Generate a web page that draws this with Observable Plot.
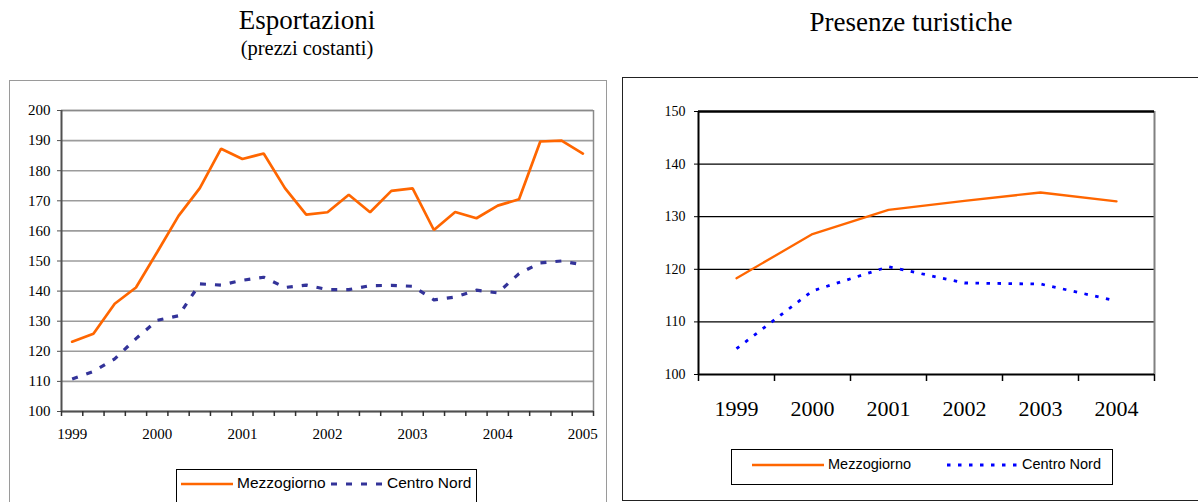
<!DOCTYPE html>
<html>
<head>
<meta charset="utf-8">
<script src="https://cdn.jsdelivr.net/npm/d3@7"></script>
<script src="https://cdn.jsdelivr.net/npm/@observablehq/plot@0.6"></script>
<style>
  body { margin: 0; background: #fff; }
  #page { position: relative; width: 1198px; height: 502px; overflow: hidden; background: #fff;
          font-family: "Liberation Serif", "Times New Roman", serif; color: #000; }
  #page svg text { font-family: "Liberation Serif", "Times New Roman", serif !important; }
  .abs { position: absolute; }
  .title { position: absolute; text-align: center; white-space: nowrap; }
  .box { position: absolute; box-sizing: border-box; }
  .legend { position: absolute; box-sizing: border-box; border: 1px solid #000; background: #fff;
            font-family: "Liberation Sans", Arial, sans-serif; }
  .legend span { position: absolute; white-space: nowrap; line-height: 1; }
  .legend svg { position: absolute; overflow: visible; }
</style>
</head>
<body>
<div id="page">
  <div class="title" style="left:107px;width:400px;top:5px;font-size:27px;">Esportazioni</div>
  <div class="title" style="left:107px;width:400px;top:37px;font-size:20.5px;">(prezzi costanti)</div>
  <div class="box" style="left:9px;top:80px;width:598px;height:440px;border:1px solid #9a9a9a;"></div>
  <div id="chartExp" class="abs" style="left:9px;top:80px;"></div>
  <div id="legendExp" class="legend" style="left:176px;top:469px;width:301px;height:40px;"></div>

  <div class="title" style="left:711px;width:400px;top:7px;font-size:27px;">Presenze turistiche</div>
  <div class="box" style="left:622px;top:77px;width:600px;height:424px;border:1.5px solid #222;"></div>
  <div id="chartTur" class="abs" style="left:622px;top:77px;"></div>
  <div id="legendTur" class="legend" style="left:731px;top:449px;width:382px;height:36px;"></div>
</div>
<script>
// Esportazioni a prezzi costanti, dati trimestrali 1999 T1 - 2005 T1
const quarters = [
  "1999 T1","1999 T2","1999 T3","1999 T4",
  "2000 T1","2000 T2","2000 T3","2000 T4",
  "2001 T1","2001 T2","2001 T3","2001 T4",
  "2002 T1","2002 T2","2002 T3","2002 T4",
  "2003 T1","2003 T2","2003 T3","2003 T4",
  "2004 T1","2004 T2","2004 T3","2004 T4",
  "2005 T1"
];
const mezzogiornoExp = [123.2,125.8,135.8,141.2,153.0,165.0,174.2,187.3,183.9,185.7,174.2,165.4,
                        166.2,172.0,166.2,173.3,174.1,160.3,166.3,164.2,168.4,170.5,189.7,190.0,185.7];
const centroNordExp  = [110.8,113.3,117.5,124.2,130.3,131.8,142.4,142.0,143.6,144.6,141.2,142.0,
                        140.5,140.5,141.8,141.9,141.6,137.1,138.0,140.3,139.4,145.8,149.4,150.0,148.7];
const yearLabelsExp = ["1999","2000","2001","2002","2003","2004","2005"];
const yTicksExp = [100,110,120,130,140,150,160,170,180,190,200];

// Presenze turistiche, dati annuali
const years = ["1999","2000","2001","2002","2003","2004"];
const mezzogiornoTur = [118.3,126.7,131.3,133.0,134.6,132.9];
const centroNordTur  = [104.9,115.9,120.5,117.4,117.2,114.0];
const yTicksTur = [100,110,120,130,140,150];

const series = ["Mezzogiorno", "Centro Nord"];
const serif = "Liberation Serif";

// ---------- Esportazioni ----------
{
  const n = quarters.length;
  const bounds = d3.range(-0.5, n, 1);             // category edges
  const labelPos = yearLabelsExp.map((_, k) => k * 4); // first quarter of each year
  const chart = Plot.plot({
    width: 598, height: 375,
    marginLeft: 52, marginRight: 14, marginTop: 30, marginBottom: 44,
    style: { fontFamily: serif, fontSize: "15px", color: "#000", background: "transparent" },
    x: { domain: [bounds[0], bounds[bounds.length - 1]] },
    y: { domain: [yTicksExp[0], yTicksExp[yTicksExp.length - 1]] },
    marks: [
      Plot.gridY(yTicksExp, { stroke: "#9c9c9c", strokeOpacity: 1, strokeWidth: 1.6 }),
      Plot.ruleX([bounds[bounds.length - 1]], { stroke: "#8a8a8a", strokeWidth: 1.5 }),
      Plot.ruleY([yTicksExp[yTicksExp.length - 1]], { stroke: "#8a8a8a", strokeWidth: 1.5 }),
      Plot.ruleX([bounds[0]], { stroke: "#505050", strokeWidth: 2 }),
      Plot.ruleY([yTicksExp[0]], { stroke: "#505050", strokeWidth: 2 }),
      Plot.axisY(yTicksExp, { tickSize: 4, tickPadding: 7, stroke: "#505050", fontSize: 15, fontFamily: serif }),
      Plot.axisX(bounds, { tickSize: 5, tickFormat: () => "", stroke: "#303030", strokeWidth: 1.5 }),
      Plot.axisX(labelPos, { tickSize: 0, tickPadding: 17, fontSize: 15, fontFamily: serif,
                             tickFormat: (d) => yearLabelsExp[d / 4] }),
      Plot.line(centroNordExp, { x: (d, i) => i, y: (d) => d, stroke: "#333399",
                                 strokeWidth: 3.2, strokeDasharray: "6,9", strokeLinecap: "butt" }),
      Plot.line(mezzogiornoExp, { x: (d, i) => i, y: (d) => d, stroke: "#ff6600",
                                  strokeWidth: 2.7, strokeLinejoin: "miter" })
    ]
  });
  document.getElementById("chartExp").appendChild(chart);
}

// ---------- Presenze turistiche ----------
{
  const n = years.length;
  const bounds = d3.range(-0.5, n, 1);
  const chart = Plot.plot({
    width: 576, height: 345,
    marginLeft: 76, marginRight: 44, marginTop: 34, marginBottom: 48,
    style: { fontFamily: serif, fontSize: "14px", color: "#000", background: "transparent" },
    x: { domain: [bounds[0], bounds[bounds.length - 1]] },
    y: { domain: [yTicksTur[0], yTicksTur[yTicksTur.length - 1]] },
    marks: [
      Plot.gridY(yTicksTur, { stroke: "#000", strokeOpacity: 1, strokeWidth: 1.2 }),
      Plot.ruleX([bounds[bounds.length - 1]], { stroke: "#808080", strokeWidth: 2 }),
      Plot.ruleY([yTicksTur[yTicksTur.length - 1]], { stroke: "#000", strokeWidth: 2.5 }),
      Plot.ruleX([bounds[0]], { stroke: "#000", strokeWidth: 2 }),
      Plot.ruleY([yTicksTur[0]], { stroke: "#000", strokeWidth: 2 }),
      Plot.axisY(yTicksTur, { tickSize: 4, tickPadding: 9, stroke: "#000", fontSize: 14, fontFamily: serif }),
      Plot.axisX(bounds, { tickSize: 7, tickFormat: () => "", stroke: "#000", strokeWidth: 1.5 }),
      Plot.axisX(d3.range(n), { tickSize: 0, tickPadding: 26, fontSize: 22, fontFamily: serif,
                                tickFormat: (d) => years[d] }),
      Plot.line(centroNordTur, { x: (d, i) => i, y: (d) => d, stroke: "#0000ff",
                                 strokeWidth: 2.8, strokeDasharray: "3.5,7.5", strokeLinecap: "butt" }),
      Plot.line(mezzogiornoTur, { x: (d, i) => i, y: (d) => d, stroke: "#ff6600", strokeWidth: 2.3 })
    ]
  });
  document.getElementById("chartTur").appendChild(chart);
}

// ---------- Legende ----------
function buildLegend(el, items) {
  for (const it of items) {
    const svg = d3.select(el).append("svg")
      .attr("width", it.sw).attr("height", 10)
      .style("left", it.sx + "px").style("top", (it.cy - 5) + "px");
    svg.append("line").attr("x1", 0).attr("x2", it.sw).attr("y1", 5).attr("y2", 5)
      .attr("stroke", it.color).attr("stroke-width", it.width)
      .attr("stroke-dasharray", it.dash || null);
    d3.select(el).append("span").text(it.label)
      .style("left", it.tx + "px").style("top", (it.cy - it.fs * 0.55) + "px")
      .style("font-size", it.fs + "px");
  }
}
buildLegend(document.getElementById("legendExp"), [
  { label: series[0], color: "#ff6600", width: 2.7, sx: 4, sw: 52, tx: 60, cy: 14, fs: 15.5 },
  { label: series[1], color: "#333399", width: 3.2, dash: "6,9", sx: 154, sw: 53, tx: 210, cy: 14, fs: 15.5 }
]);
buildLegend(document.getElementById("legendTur"), [
  { label: series[0], color: "#ff6600", width: 2.3, sx: 20, sw: 72, tx: 96, cy: 15, fs: 14.5 },
  { label: series[1], color: "#0000ff", width: 2.8, dash: "3.5,7.5", sx: 215, sw: 74, tx: 290, cy: 15, fs: 14.5 }
]);
</script>
</body>
</html>
